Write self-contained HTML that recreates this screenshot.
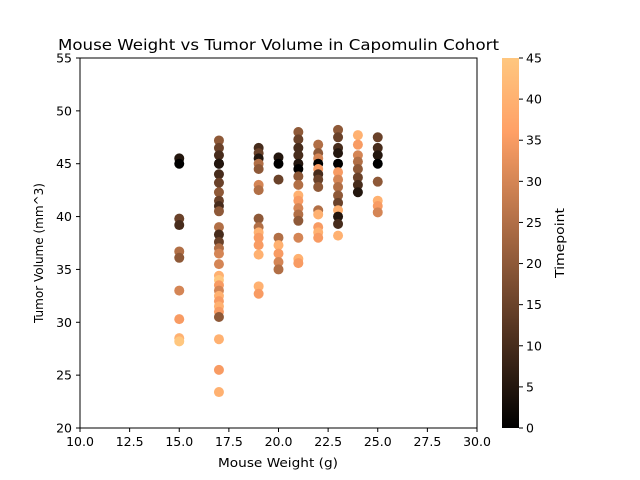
<!DOCTYPE html>
<html><head><meta charset="utf-8"><style>
body{margin:0;background:#fff}
svg{display:block;font-family:"DejaVu Sans","Liberation Sans",sans-serif}
</style></head><body>
<svg id="chart" width="640" height="480">
<defs><linearGradient id="cop" x1="0" y1="1" x2="0" y2="0">
<stop offset="0" stop-color="#000"/><stop offset="0.8" stop-color="#ffa066"/><stop offset="1" stop-color="#ffc77f"/>
</linearGradient></defs>
<text x="278.5" y="50" font-size="15.5" text-anchor="middle" textLength="441" lengthAdjust="spacingAndGlyphs">Mouse Weight vs Tumor Volume in Capomulin Cohort</text>
<g id="marks"></g>
<rect x="80" y="58" width="397" height="370" fill="none" stroke="#000" stroke-width="1"/>
<g id="axes" font-size="12.5"></g>
<text x="278" y="467" font-size="12.5" text-anchor="middle" textLength="120" lengthAdjust="spacingAndGlyphs">Mouse Weight (g)</text>
<text transform="translate(43,253) rotate(-90)" font-size="12.5" text-anchor="middle" textLength="140" lengthAdjust="spacingAndGlyphs">Tumor Volume (mm^3)</text>
<rect x="502" y="58" width="17" height="370" fill="url(#cop)"/>
<text transform="translate(564,243) rotate(-90)" font-size="12.5" text-anchor="middle" textLength="70" lengthAdjust="spacingAndGlyphs">Timepoint</text>
</svg>
<script>
const weights=[15,15,15,15,15,15,15,15,15,15,
17,17,17,17,17,17,17,17,17,17,17,17,17,17,17,17,17,17,17,17,17,17,17,17,17,17,17,17,17,
19,19,19,19,19,19,19,19,19,19,19,19,19,19,19,
20,20,20,20,20,20,20,20,
21,21,21,21,21,21,21,21,21,21,21,21,21,21,21,21,
22,22,22,22,22,22,22,22,22,22,22,22,22,
23,23,23,23,23,23,23,23,23,23,23,23,23,23,
24,24,24,24,24,24,24,24,
25,25,25,25,25,25,25,25];
const volumes=[45.5,45,39.8,39.2,36.7,36.1,33,30.3,28.5,28.2,
47.2,46.5,45.8,45,45,44,43.2,42.3,41.5,41,40.5,39,38.3,37.6,37,36.5,35.5,34.4,34,33.5,33,32.5,32,31.5,31,30.5,28.4,25.5,23.4,
46.5,46,45.5,45,44.5,43,42.5,39.8,39,38.5,38,37.3,36.4,33.4,32.7,
45.6,45,43.5,38,37.3,36.5,35.7,35,
48,47.3,46.5,45.8,45,44.5,43.8,43,42,41.5,40.8,40.2,39.6,38,36,35.6,
46.8,46,45.5,45,44.5,44,43.5,42.8,40.6,40.2,39,38.5,38,
48.2,47.5,46.5,46,45,44.2,43.5,42.8,42,41.3,40.6,40,39.3,38.2,
47.7,46.8,45.8,45.2,44.5,43.7,43,42.3,
47.5,46.5,45.8,45,43.3,41.5,41,40.4];
const timepoints=[5,0,15,10,25,20,30,35,40,45,
20,15,10,0,5,10,15,20,15,10,20,25,10,15,25,30,30,40,45,35,30,40,35,40,35,20,40,35,40,
10,15,5,25,20,30,25,20,25,40,35,35,40,40,35,
5,0,15,25,40,35,30,25,
20,15,10,10,5,0,20,25,40,35,30,25,20,30,40,35,
25,20,30,0,35,10,15,20,25,40,35,40,35,
20,15,10,5,0,35,30,25,20,15,40,5,10,40,
40,35,30,25,20,15,10,5,
15,10,5,0,20,40,35,30];
const xTicks=[10,12.5,15,17.5,20,22.5,25,27.5,30];
const yTicks=[20,25,30,35,40,45,50,55];
const cTicks=[0,5,10,15,20,25,30,35,40,45];
const X=v=>80+(v-10)/20*397, Y=v=>428-(v-20)/35*370, C=v=>428-v/45*370;
function copper(t){t/=45;const r=Math.min(1,1.25*t),g=0.7812*t,b=0.4975*t;
return `rgb(${Math.round(r*255)},${Math.round(g*255)},${Math.round(b*255)})`;}
const NS="http://www.w3.org/2000/svg";
const mk=document.getElementById('marks');
for(let i=0;i<weights.length;i++){
 const c=document.createElementNS(NS,'circle');
 c.setAttribute('cx',X(weights[i]));c.setAttribute('cy',Y(volumes[i]));c.setAttribute('r',5);
 c.setAttribute('fill',copper(timepoints[i]));
 
 
 mk.appendChild(c);}
const ax=document.getElementById('axes');
function add(tag,attrs,txt){const e=document.createElementNS(NS,tag);for(const k in attrs)e.setAttribute(k,attrs[k]);if(txt!==undefined)e.textContent=txt;ax.appendChild(e);return e;}
xTicks.forEach(v=>{const x=X(v);add('line',{x1:x,x2:x,y1:428,y2:432,stroke:'#000'});
 const t=add('text',{x:x,y:446,'text-anchor':'middle'},v.toFixed(1));
 
 });
yTicks.forEach(v=>{const y=Y(v);add('line',{x1:76,x2:80,y1:y,y2:y,stroke:'#000'});
 const t=add('text',{x:72,y:y+4.5,'text-anchor':'end'},v);
 
 });
cTicks.forEach(v=>{const y=C(v);add('line',{x1:519,x2:523,y1:y,y2:y,stroke:'#000'});
 const t=add('text',{x:526,y:y+4.5},v);
 
 });
</script>
</body></html>
